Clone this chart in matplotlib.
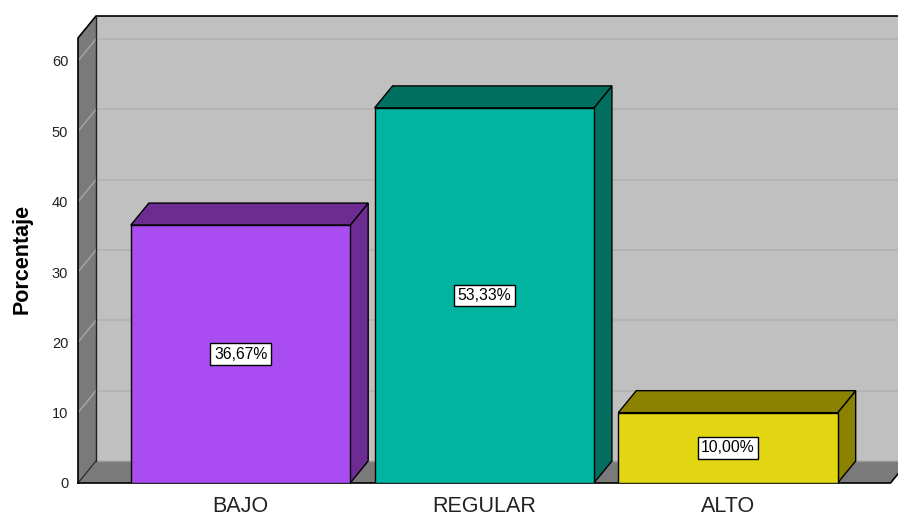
import matplotlib
matplotlib.use("Agg")
import matplotlib.pyplot as plt
from matplotlib.patches import Polygon

categories = ["BAJO", "REGULAR", "ALTO"]
values = [36.67, 53.33, 10.00]
labels = ["36,67%", "53,33%", "10,00%"]
yticks = [0, 10, 20, 30, 40, 50, 60]

front_colors = ["#A94CF2", "#00B4A0", "#E2D612"]
dark_colors = ["#6C2C91", "#006F60", "#8A8200"]

plt.rcParams["font.family"] = ["Liberation Sans", "DejaVu Sans"]

W, H = 898, 516
fig = plt.figure(figsize=(W / 100, H / 100), dpi=100)
# front plane: x 78..890.5 px, y=0 at 483 px, y=60 at 61 px
ax = fig.add_axes([78 / W, (H - 483) / H, 812.5 / W, 422 / H])
ax.set_xlim(-0.6667, 2.6667)
ax.set_ylim(0, 60)
for s in ax.spines.values():
    s.set_visible(False)
ax.patch.set_visible(False)

px_x = 3.3333 / 812.5   # data units per pixel x
px_y = 60 / 422.0       # data units per pixel y
dx = 18 * px_x
dy = 22 * px_y
xl, xr = -0.6667, 2.6667
ytop = 63.27
xback_r = xr + 40 * px_x

kw = dict(clip_on=False)
# back wall
ax.add_patch(Polygon([(xl + dx, dy), (xback_r, dy), (xback_r, ytop + dy), (xl + dx, ytop + dy)],
                     closed=True, fc="#C0C0C0", ec="none", zorder=1, **kw))
for t in yticks[1:]:
    ax.plot([xl + dx, xback_r], [t + dy, t + dy], color="#B2B2B2", lw=1.2, zorder=1.1, **kw)
# floor
ax.add_patch(Polygon([(xl, 0), (xr, 0), (xr + dx, dy), (xl + dx, dy)],
                     closed=True, fc="#7A7A7A", ec="none", zorder=1.2, **kw))
ax.add_patch(Polygon([(xr, 0), (xback_r, 0), (xback_r, dy), (xr + dx, dy)],
                     closed=True, fc="white", ec="none", zorder=1.25, **kw))
ax.plot([xl + dx, xback_r], [dy, dy], color="#9A9A9A", lw=1, zorder=1.3, **kw)
# left wall
ax.add_patch(Polygon([(xl, 0), (xl + dx, dy), (xl + dx, ytop + dy), (xl, ytop)],
                     closed=True, fc="#7A7A7A", ec="none", zorder=1.2, **kw))
for t in yticks[1:]:
    ax.plot([xl, xl + dx], [t, t + dy], color="#A8A8A8", lw=1, zorder=1.3, **kw)
# edges
ax.plot([xl, xl, xl + dx, xback_r], [0, ytop, ytop + dy, ytop + dy], color="black", lw=1.2, zorder=1.5, **kw)
ax.plot([xl + dx, xl + dx], [dy, ytop + dy], color="#222222", lw=1, zorder=1.5, **kw)
ax.plot([xl, xl + dx], [0, dy], color="#222222", lw=0.8, zorder=1.5, **kw)
ax.plot([xl, xr, xr + dx], [0, 0, dy], color="black", lw=1.2, zorder=1.5, **kw)

# bars
bw = 0.9
for i, (v, fc, dc) in enumerate(zip(values, front_colors, dark_colors)):
    x0, x1 = i - bw / 2, i + bw / 2
    ax.add_patch(Polygon([(x1, 0), (x1 + dx, dy), (x1 + dx, v + dy), (x1, v)],
                         closed=True, fc=dc, ec="black", lw=1, zorder=3, joinstyle="miter", **kw))
    ax.add_patch(Polygon([(x0, v), (x0 + dx, v + dy), (x1 + dx, v + dy), (x1, v)],
                         closed=True, fc=dc, ec="black", lw=1, zorder=3, joinstyle="miter", **kw))
    ax.bar(i, v, width=bw, color=fc, edgecolor="black", linewidth=1, zorder=4)
    ax.text(i, v / 2, labels[i], ha="center", va="center", fontsize=11.3, color="black", zorder=5,
            bbox=dict(boxstyle="square,pad=0.22", fc="white", ec="black", lw=1))

ax.set_xticks(range(len(categories)))
ax.set_xticklabels(categories, fontsize=15.5, color="#222222")
ax.tick_params(axis="x", length=0, pad=9)
ax.set_yticks(yticks)
ax.set_yticklabels([str(t) for t in yticks], fontsize=10.5, color="#222222")
ax.tick_params(axis="y", length=0, pad=7)
ax.set_ylabel("Porcentaje", fontsize=15.5, fontweight="bold", color="black")
ax.yaxis.set_label_coords(-0.0554, 0.531)

fig.savefig("out.png", dpi=100)
